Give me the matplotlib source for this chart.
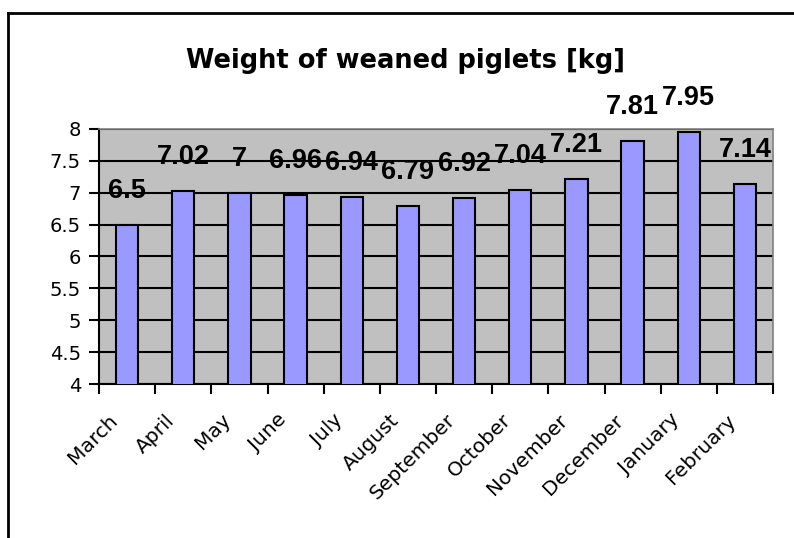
import matplotlib
matplotlib.use("Agg")
import matplotlib.pyplot as plt
from matplotlib.lines import Line2D
from matplotlib.transforms import ScaledTranslation

# data
months = ["March", "April", "May", "June", "July", "August", "September",
          "October", "November", "December", "January", "February"]
weights = [6.5, 7.02, 7.0, 6.96, 6.94, 6.79, 6.92, 7.04, 7.21, 7.81, 7.95, 7.14]
y_ticks = [4, 4.5, 5, 5.5, 6, 6.5, 7, 7.5, 8]

W, H = 794, 538
fig = plt.figure(figsize=(W / 100, H / 100), dpi=100)
ax = fig.add_axes([99 / W, 1 - 384 / H, (773 - 99) / W, (384 - 129) / H])

ax.set_facecolor("#C0C0C0")
x = list(range(len(months)))
ax.bar(x, weights, width=0.4, color="#9999FF", edgecolor="black", linewidth=1.5, zorder=3)

ax.set_ylim(4, 8)
ax.set_xlim(-0.5, len(months) - 0.5)
ax.set_yticks(y_ticks)
ax.set_yticklabels([f"{t:g}" for t in y_ticks])
ax.yaxis.grid(True, color="black", linewidth=1.5, zorder=1)
ax.set_axisbelow(True)

# ticks between categories, labels under bars
ax.set_xticks([i - 0.5 for i in range(len(months) + 1)])
ax.set_xticklabels([])
ax.set_xticks(x, minor=True)
ax.set_xticklabels(months, minor=True, rotation=45, ha="right", va="center",
                   rotation_mode="anchor", fontsize=14.5, family="DejaVu Sans")
ax.tick_params(axis="x", which="minor", length=0, pad=24)
ax.tick_params(axis="x", which="major", length=7, width=1.5, direction="out")
ax.tick_params(axis="y", length=7, width=1.5, direction="out", labelsize=14, pad=6)
shift = ScaledTranslation(-12 / 100, 0, fig.dpi_scale_trans)
for lbl in ax.get_xticklabels(minor=True):
    lbl.set_transform(lbl.get_transform() + shift)

for s in ["left", "bottom"]:
    ax.spines[s].set_linewidth(1.5)
    ax.spines[s].set_color("black")
for s in ["top", "right"]:
    ax.spines[s].set_linewidth(1.2)
    ax.spines[s].set_color("#808080")

# value labels above bars
for i, v in enumerate(weights):
    ax.annotate(f"{v:g}", (i, v), xytext=(0, 34), textcoords="offset pixels",
                ha="center", va="center", fontsize=19.5, fontweight="bold",
                family="Liberation Sans", annotation_clip=False, zorder=5)

fig.text(406 / W, 1 - 68 / H, "Weight of weaned piglets [kg]", ha="center", va="baseline",
         fontsize=18.5, fontweight="bold", family="DejaVu Sans")

# chart frame (left and top edges visible)
fig.add_artist(Line2D([8 / W, 8 / W], [0, 1 - 13 / H], color="black", linewidth=2,
                      transform=fig.transFigure))
fig.add_artist(Line2D([8 / W, 1], [1 - 13 / H, 1 - 13 / H], color="black", linewidth=2,
                      transform=fig.transFigure))

fig.savefig("out.png", dpi=100)
